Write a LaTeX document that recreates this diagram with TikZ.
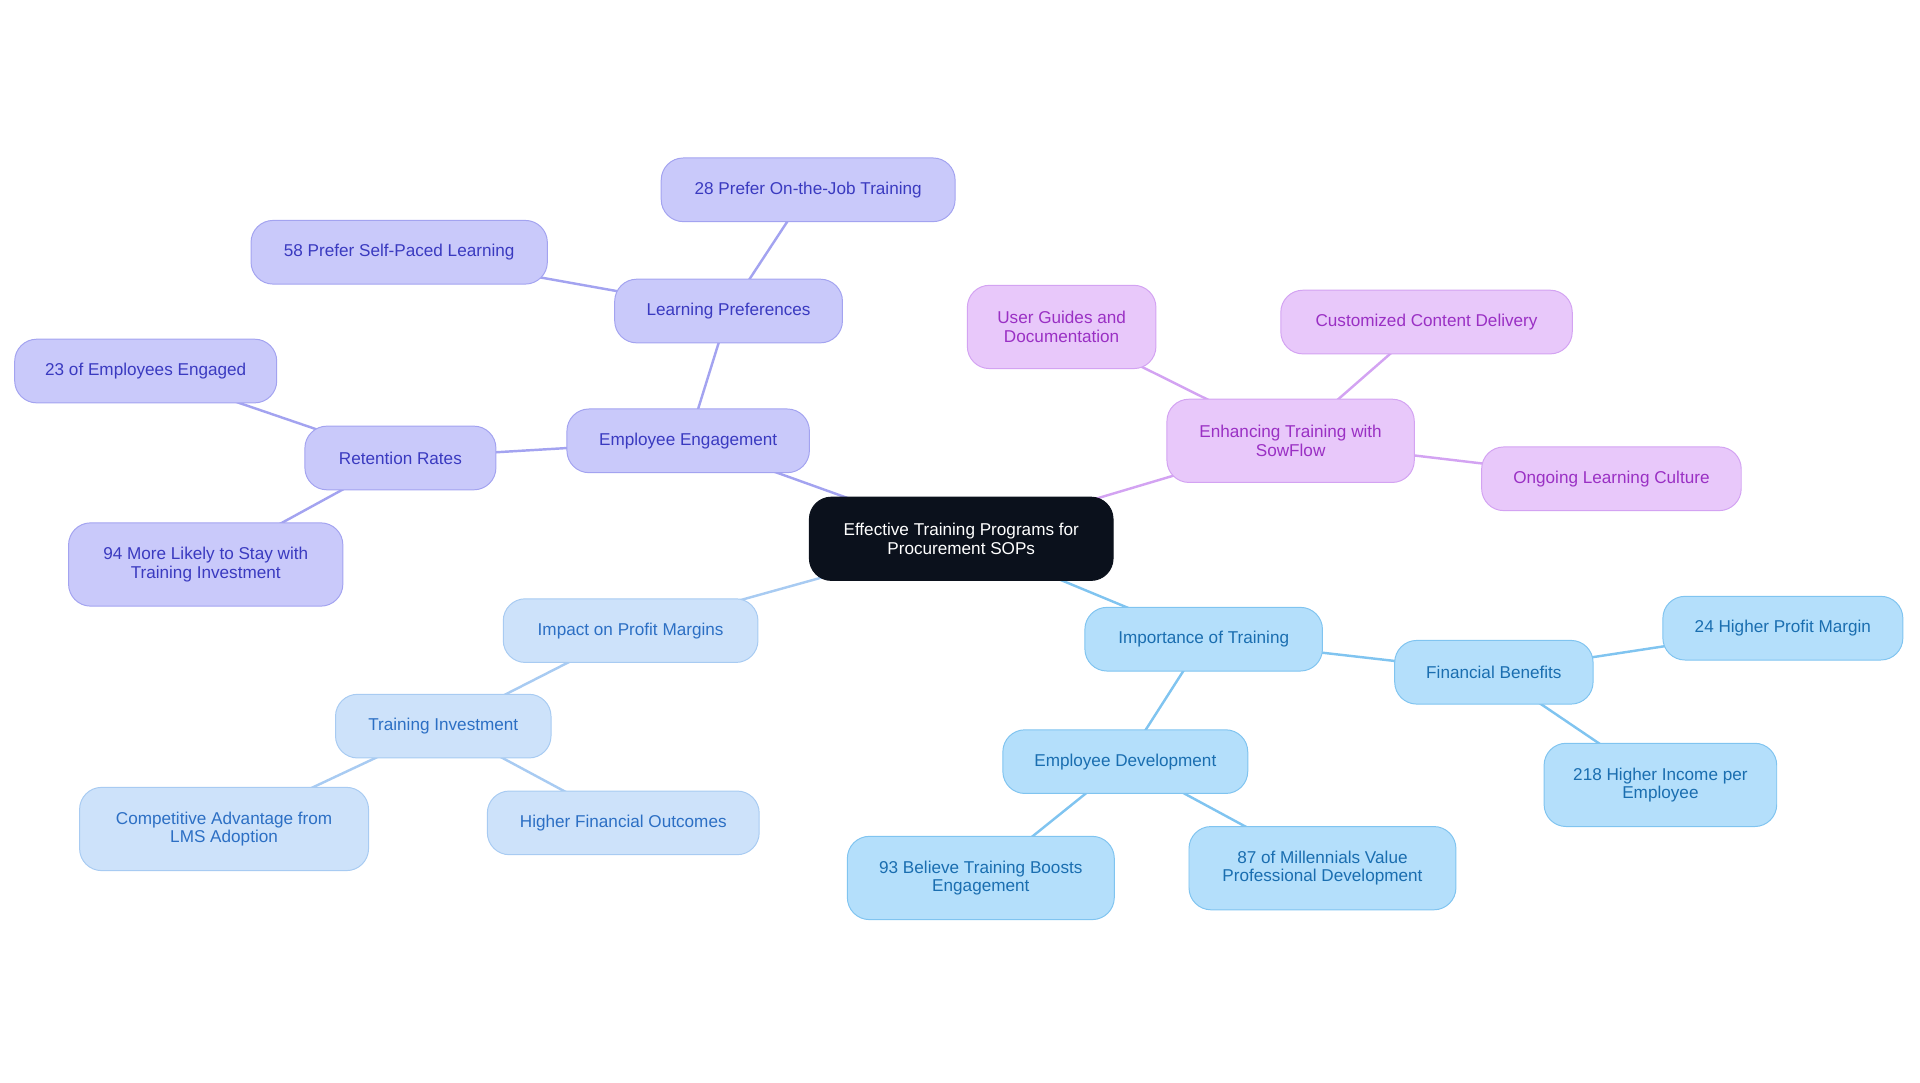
\documentclass[tikz,border=0pt]{standalone}
\usepackage{fontspec}
\setmainfont{Liberation Sans}
\usetikzlibrary{backgrounds}
\definecolor{pf}{HTML}{C9C9FA}\definecolor{pd}{HTML}{A3A3F0}\definecolor{pt}{HTML}{3A3AC0}
\definecolor{kf}{HTML}{E8C8FA}\definecolor{kd}{HTML}{D3A3F2}\definecolor{kt}{HTML}{9A30C4}
\definecolor{lf}{HTML}{CDE2FA}\definecolor{ld}{HTML}{A8CBF2}\definecolor{lt}{HTML}{2C6FC4}
\definecolor{bf}{HTML}{B4DFFB}\definecolor{bd}{HTML}{80C4F0}\definecolor{bt}{HTML}{1A6EB0}
\definecolor{cf}{HTML}{0B111C}
\begin{document}
\begin{tikzpicture}[x=1pt,y=-1pt,
 box/.style={rounded corners=18pt,line width=0.8pt,align=center,font=\fontsize{14}{15}\selectfont,inner sep=0pt},
 pu/.style={box,fill=pf,draw=pd,text=pt},
 pk/.style={box,fill=kf,draw=kd,text=kt},
 lb/.style={box,fill=lf,draw=ld,text=lt},
 bb/.style={box,fill=bf,draw=bd,text=bt},
 ep/.style={draw=pd,line width=2pt},
 ek/.style={draw=kd,line width=2pt},
 el/.style={draw=ld,line width=2pt},
 eb/.style={draw=bd,line width=2pt}]
\useasboundingbox (0,0) rectangle (1568,884);
\newcommand\nd[6]{\node[#1,minimum width=#4pt,minimum height=#5pt] (#2) at #3 {#6};}
\nd{box,fill=cf,draw=cf,text=white}{c}{(785,440)}{248}{68}{Effective Training Programs for\\Procurement SOPs}
\nd{pu}{ee}{(562,360)}{198}{52}{Employee Engagement}
\nd{pu}{lp}{(595,254)}{186}{52}{Learning Preferences}
\nd{pu}{a28}{(660,155)}{240}{52}{28 Prefer On-the-Job Training}
\nd{pu}{a58}{(326,206)}{242}{52}{58 Prefer Self-Paced Learning}
\nd{pu}{rr}{(327,374)}{156}{52}{Retention Rates}
\nd{pu}{a23}{(119,303)}{214}{52}{23 of Employees Engaged}
\nd{pu}{a94}{(168,461)}{224}{68}{94 More Likely to Stay with\\Training Investment}
\nd{pk}{ets}{(1054,360)}{202}{68}{Enhancing Training with\\SowFlow}
\nd{pk}{ug}{(867,267)}{154}{68}{User Guides and\\Documentation}
\nd{pk}{ccd}{(1165,263)}{238}{52}{Customized Content Delivery}
\nd{pk}{olc}{(1316,391)}{212}{52}{Ongoing Learning Culture}
\nd{lb}{ipm}{(515,515)}{208}{52}{Impact on Profit Margins}
\nd{lb}{ti}{(362,593)}{176}{52}{Training Investment}
\nd{lb}{ca}{(183,677)}{236}{68}{Competitive Advantage from\\LMS Adoption}
\nd{lb}{hfo}{(509,672)}{222}{52}{Higher Financial Outcomes}
\nd{bb}{it}{(983,522)}{194}{52}{Importance of Training}
\nd{bb}{fb}{(1220,549)}{162}{52}{Financial Benefits}
\nd{bb}{a24}{(1456,513)}{196}{52}{24 Higher Profit Margin}
\nd{bb}{a218}{(1356,641)}{190}{68}{218 Higher Income per\\Employee}
\nd{bb}{ed}{(919,622)}{200}{52}{Employee Development}
\nd{bb}{a93}{(801,717)}{218}{68}{93 Believe Training Boosts\\Engagement}
\nd{bb}{a87}{(1080,709)}{218}{68}{87 of Millennials Value\\Professional Development}
\begin{pgfonlayer}{background}
\draw[ep] (c.center)--(ee.center); \draw[ep] (ee.center)--(lp.center);
\draw[ep] (lp.center)--(a28.center); \draw[ep] (lp.center)--(a58.center);
\draw[ep] (ee.center)--(rr.center); \draw[ep] (rr.center)--(a23.center);
\draw[ep] (rr.center)--(a94.center);
\draw[ek] (c.center)--(ets.center); \draw[ek] (ets.center)--(ug.center);
\draw[ek] (ets.center)--(ccd.center); \draw[ek] (ets.center)--(olc.center);
\draw[el] (c.center)--(ipm.center); \draw[el] (ipm.center)--(ti.center);
\draw[el] (ti.center)--(ca.center); \draw[el] (ti.center)--(hfo.center);
\draw[eb] (c.center)--(it.center); \draw[eb] (it.center)--(fb.center);
\draw[eb] (fb.center)--(a24.center); \draw[eb] (fb.center)--(a218.center);
\draw[eb] (it.center)--(ed.center); \draw[eb] (ed.center)--(a93.center);
\draw[eb] (ed.center)--(a87.center);
\end{pgfonlayer}
\end{tikzpicture}
\end{document}
